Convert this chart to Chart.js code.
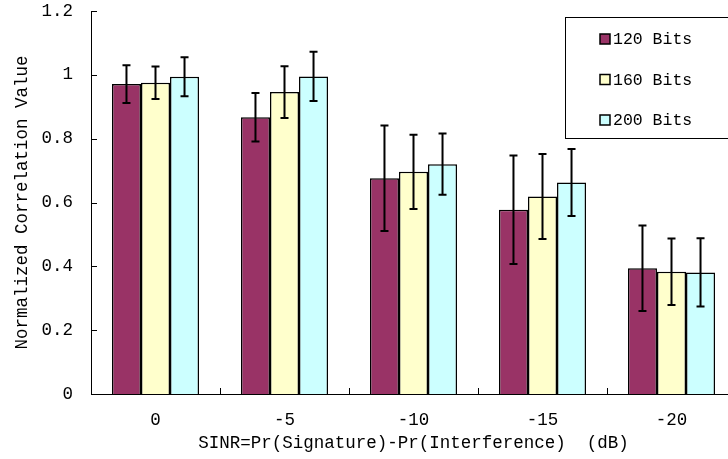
<!DOCTYPE html>
<html>
<head>
<meta charset="utf-8">
<script src="https://cdn.jsdelivr.net/npm/chart.js@4.4.1/dist/chart.umd.min.js"></script>
<style>
  html, body { margin: 0; padding: 0; overflow: hidden; background: #fff; }
</style>
</head>
<body>
<canvas id="chart" width="745" height="459"></canvas>
<script>
// data
const categories = ['0', '-5', '-10', '-15', '-20']
const seriesNames = ['120 Bits', '160 Bits', '200 Bits']
const bits120 = [0.971, 0.867, 0.676, 0.577, 0.394]
const bits160 = [0.975, 0.946, 0.696, 0.619, 0.383]
const bits200 = [0.994, 0.995, 0.720, 0.663, 0.381]
const err120 = [0.059, 0.076, 0.165, 0.170, 0.134]
const err160 = [0.051, 0.081, 0.116, 0.133, 0.104]
const err200 = [0.061, 0.077, 0.096, 0.105, 0.107]
const yMin = 0
const yMax = 1.2
const yStep = 0.2

const colors = ['#993366', '#FFFFCC', '#CCFFFF']
const FONT = 'Liberation Mono'

const chartCanvas = document.getElementById('chart')

// error bars, drawn on top of each bar
const errorBars = {
  id: 'errorBars',
  afterDatasetsDraw(chart) {
    const ctx = chart.ctx
    const y = chart.scales.y
    chart.data.datasets.forEach((ds, i) => {
      const meta = chart.getDatasetMeta(i)
      meta.data.forEach((bar, j) => {
        const v = ds.data[j]
        const e = ds.errors[j]
        const top = y.getPixelForValue(v + e)
        const bot = y.getPixelForValue(v - e)
        ctx.save()
        ctx.strokeStyle = '#000'
        ctx.lineWidth = 2
        ctx.beginPath()
        ctx.moveTo(bar.x, top); ctx.lineTo(bar.x, bot)
        ctx.moveTo(bar.x - 4, top); ctx.lineTo(bar.x + 4, top)
        ctx.moveTo(bar.x - 4, bot); ctx.lineTo(bar.x + 4, bot)
        ctx.stroke()
        ctx.restore()
      })
    })
  }
}

// inner tick marks like the original (pointing into the plot)
const innerTicks = {
  id: 'innerTicks',
  afterDraw(chart) {
    const ctx = chart.ctx
    const area = chart.chartArea
    const y = chart.scales.y
    const x = chart.scales.x
    ctx.save()
    ctx.strokeStyle = '#000'
    ctx.lineWidth = 1
    ctx.beginPath()
    y.ticks.forEach(t => {
      const py = Math.round(y.getPixelForValue(t.value)) + 0.5
      ctx.moveTo(area.left, py); ctx.lineTo(area.left + 6, py)
    })
    const n = categories.length
    for (let i = 1; i < n; i++) {
      const px = Math.round((x.getPixelForValue(i - 1) + x.getPixelForValue(i)) / 2) + 0.5
      ctx.moveTo(px, area.bottom); ctx.lineTo(px, area.bottom - 6)
    }
    ctx.stroke()
    ctx.restore()
  }
}

// boxed legend at the top right
const boxLegend = {
  id: 'boxLegend',
  afterDraw(chart) {
    const ctx = chart.ctx
    const bx = 565, by = 17, bh = 121
    ctx.save()
    ctx.fillStyle = '#fff'
    ctx.fillRect(bx, by, chart.width - bx + 5, bh)
    ctx.strokeStyle = '#000'
    ctx.lineWidth = 1
    ctx.strokeRect(bx + 0.5, by + 0.5, chart.width - bx + 5, bh)
    ctx.font = '16.5px "' + FONT + '"'
    ctx.textBaseline = 'middle'
    chart.data.datasets.forEach((ds, i) => {
      const cy = 39 + i * 40.5
      ctx.fillStyle = ds.backgroundColor
      ctx.fillRect(600, cy - 5, 10, 10)
      ctx.strokeStyle = '#000'
      ctx.lineWidth = 1.5
      ctx.strokeRect(600, cy - 5, 10, 10)
      ctx.fillStyle = '#000'
      ctx.fillText(ds.label, 613, cy + 1)
    })
    ctx.restore()
  }
}

let chart = new Chart(chartCanvas, {
  type: 'bar',
  data: {
    labels: categories,
    datasets: [
      { label: seriesNames[0], data: bits120, errors: err120, backgroundColor: colors[0] },
      { label: seriesNames[1], data: bits160, errors: err160, backgroundColor: colors[1] },
      { label: seriesNames[2], data: bits200, errors: err200, backgroundColor: colors[2] }
    ]
  },
  options: {
    responsive: false,
    animation: false,
    layout: { padding: { top: 11, right: 9, left: 0, bottom: 0 } },
    datasets: {
      bar: {
        borderColor: '#000',
        borderWidth: 1.5,
        categoryPercentage: 0.675,
        barPercentage: 1.0
      }
    },
    plugins: {
      legend: { display: false },
      tooltip: { enabled: false }
    },
    scales: {
      x: {
        grid: { display: false },
        border: { display: true, color: '#000', width: 1 },
        ticks: { color: '#000', padding: 8, font: { family: FONT, size: 17.5 } },
        title: {
          display: true,
          text: 'SINR=Pr(Signature)-Pr(Interference)  (dB)',
          color: '#000',
          font: { family: FONT, size: 17.5 },
          padding: { top: 0, bottom: 5.5 }
        },
        afterFit: s => { s.height = 65; s.paddingLeft = 0; s.paddingRight = 0 }
      },
      y: {
        min: yMin,
        max: yMax,
        grid: { display: false },
        border: { display: true, color: '#000', width: 1 },
        ticks: {
          stepSize: yStep,
          color: '#000',
          padding: 10,
          font: { family: FONT, size: 17.5 },
          callback: v => String(parseFloat(v.toFixed(2)))
        },
        title: {
          display: true,
          text: 'Normalized Correlation Value',
          color: '#000',
          font: { family: FONT, size: 17.5 },
          padding: { top: 11.5, bottom: 0 }
        },
        afterFit: s => { s.width = 91; s.paddingTop = 0; s.paddingBottom = 0 }
      }
    }
  },
  plugins: [errorBars, innerTicks, boxLegend]
})
</script>
</body>
</html>
